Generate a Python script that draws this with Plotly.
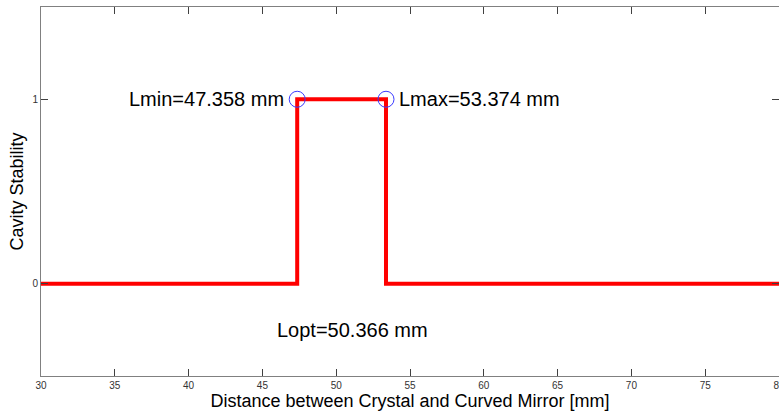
import plotly.graph_objects as go

# Scan range and stability limits of the cavity [mm]
x_start = 30
x_end = 80
L_min = 47.358
L_max = 53.374
L_opt = 50.366

# Stability indicator: 1 inside the stable window, 0 outside
x_step = [x_start, L_min, L_min, L_max, L_max, x_end]
y_step = [0, 0, 1, 1, 0, 0]

x_ticks = [30, 35, 40, 45, 50, 55, 60, 65, 70, 75, 80]
y_ticks = [0, 1]

font_family = "Liberation Sans, Arial, sans-serif"

fig = go.Figure()
fig.add_trace(go.Scatter(
    x=x_step, y=y_step, mode="lines",
    line=dict(color="#ff0000", width=4),
    hoverinfo="skip", showlegend=False,
))
fig.add_trace(go.Scatter(
    x=[L_min, L_max], y=[1, 1], mode="markers",
    marker=dict(symbol="circle-open", size=16,
                color="#3a3aff", line=dict(width=1, color="#3a3aff")),
    hoverinfo="skip", showlegend=False,
))

label_font = dict(family=font_family, size=20, color="#000000")
fig.add_annotation(x=L_min, y=1, text=f"Lmin={L_min:.3f} mm",
                   xanchor="right", yanchor="middle", xshift=-11,
                   showarrow=False, font=label_font)
fig.add_annotation(x=L_max, y=1, text=f"Lmax={L_max:.3f} mm",
                   xanchor="left", yanchor="middle", xshift=11,
                   showarrow=False, font=label_font)
fig.add_annotation(x=L_opt, y=-0.25, text=f"Lopt={L_opt:.3f} mm",
                   xanchor="center", yanchor="middle", xshift=11,
                   showarrow=False, font=label_font)

axis_common = dict(
    showgrid=False, zeroline=False,
    showline=True, linecolor="#808080", linewidth=1, mirror="ticks",
    ticks="inside", ticklen=7, tickwidth=1, tickcolor="#404040",
    tickfont=dict(family=font_family, size=10, color="#333333"),
    title_font=dict(family=font_family, size=18, color="#000000"),
    ticklabeloverflow="allow",
    automargin=False,
)

fig.update_xaxes(
    range=[x_start, x_end], tickvals=x_ticks,
    title_text="Distance between Crystal and Curved Mirror [mm]",
    title_standoff=1,
    **axis_common,
)
fig.update_yaxes(
    range=[-0.5, 1.5], tickvals=y_ticks,
    title_text="Cavity Stability",
    title_standoff=4,
    **axis_common,
)

fig.update_layout(
    width=779, height=412,
    margin=dict(l=41, r=0, t=7, b=36, autoexpand=False),
    paper_bgcolor="#ffffff", plot_bgcolor="#ffffff",
    font=dict(family=font_family),
)

fig.write_html("out.html")
